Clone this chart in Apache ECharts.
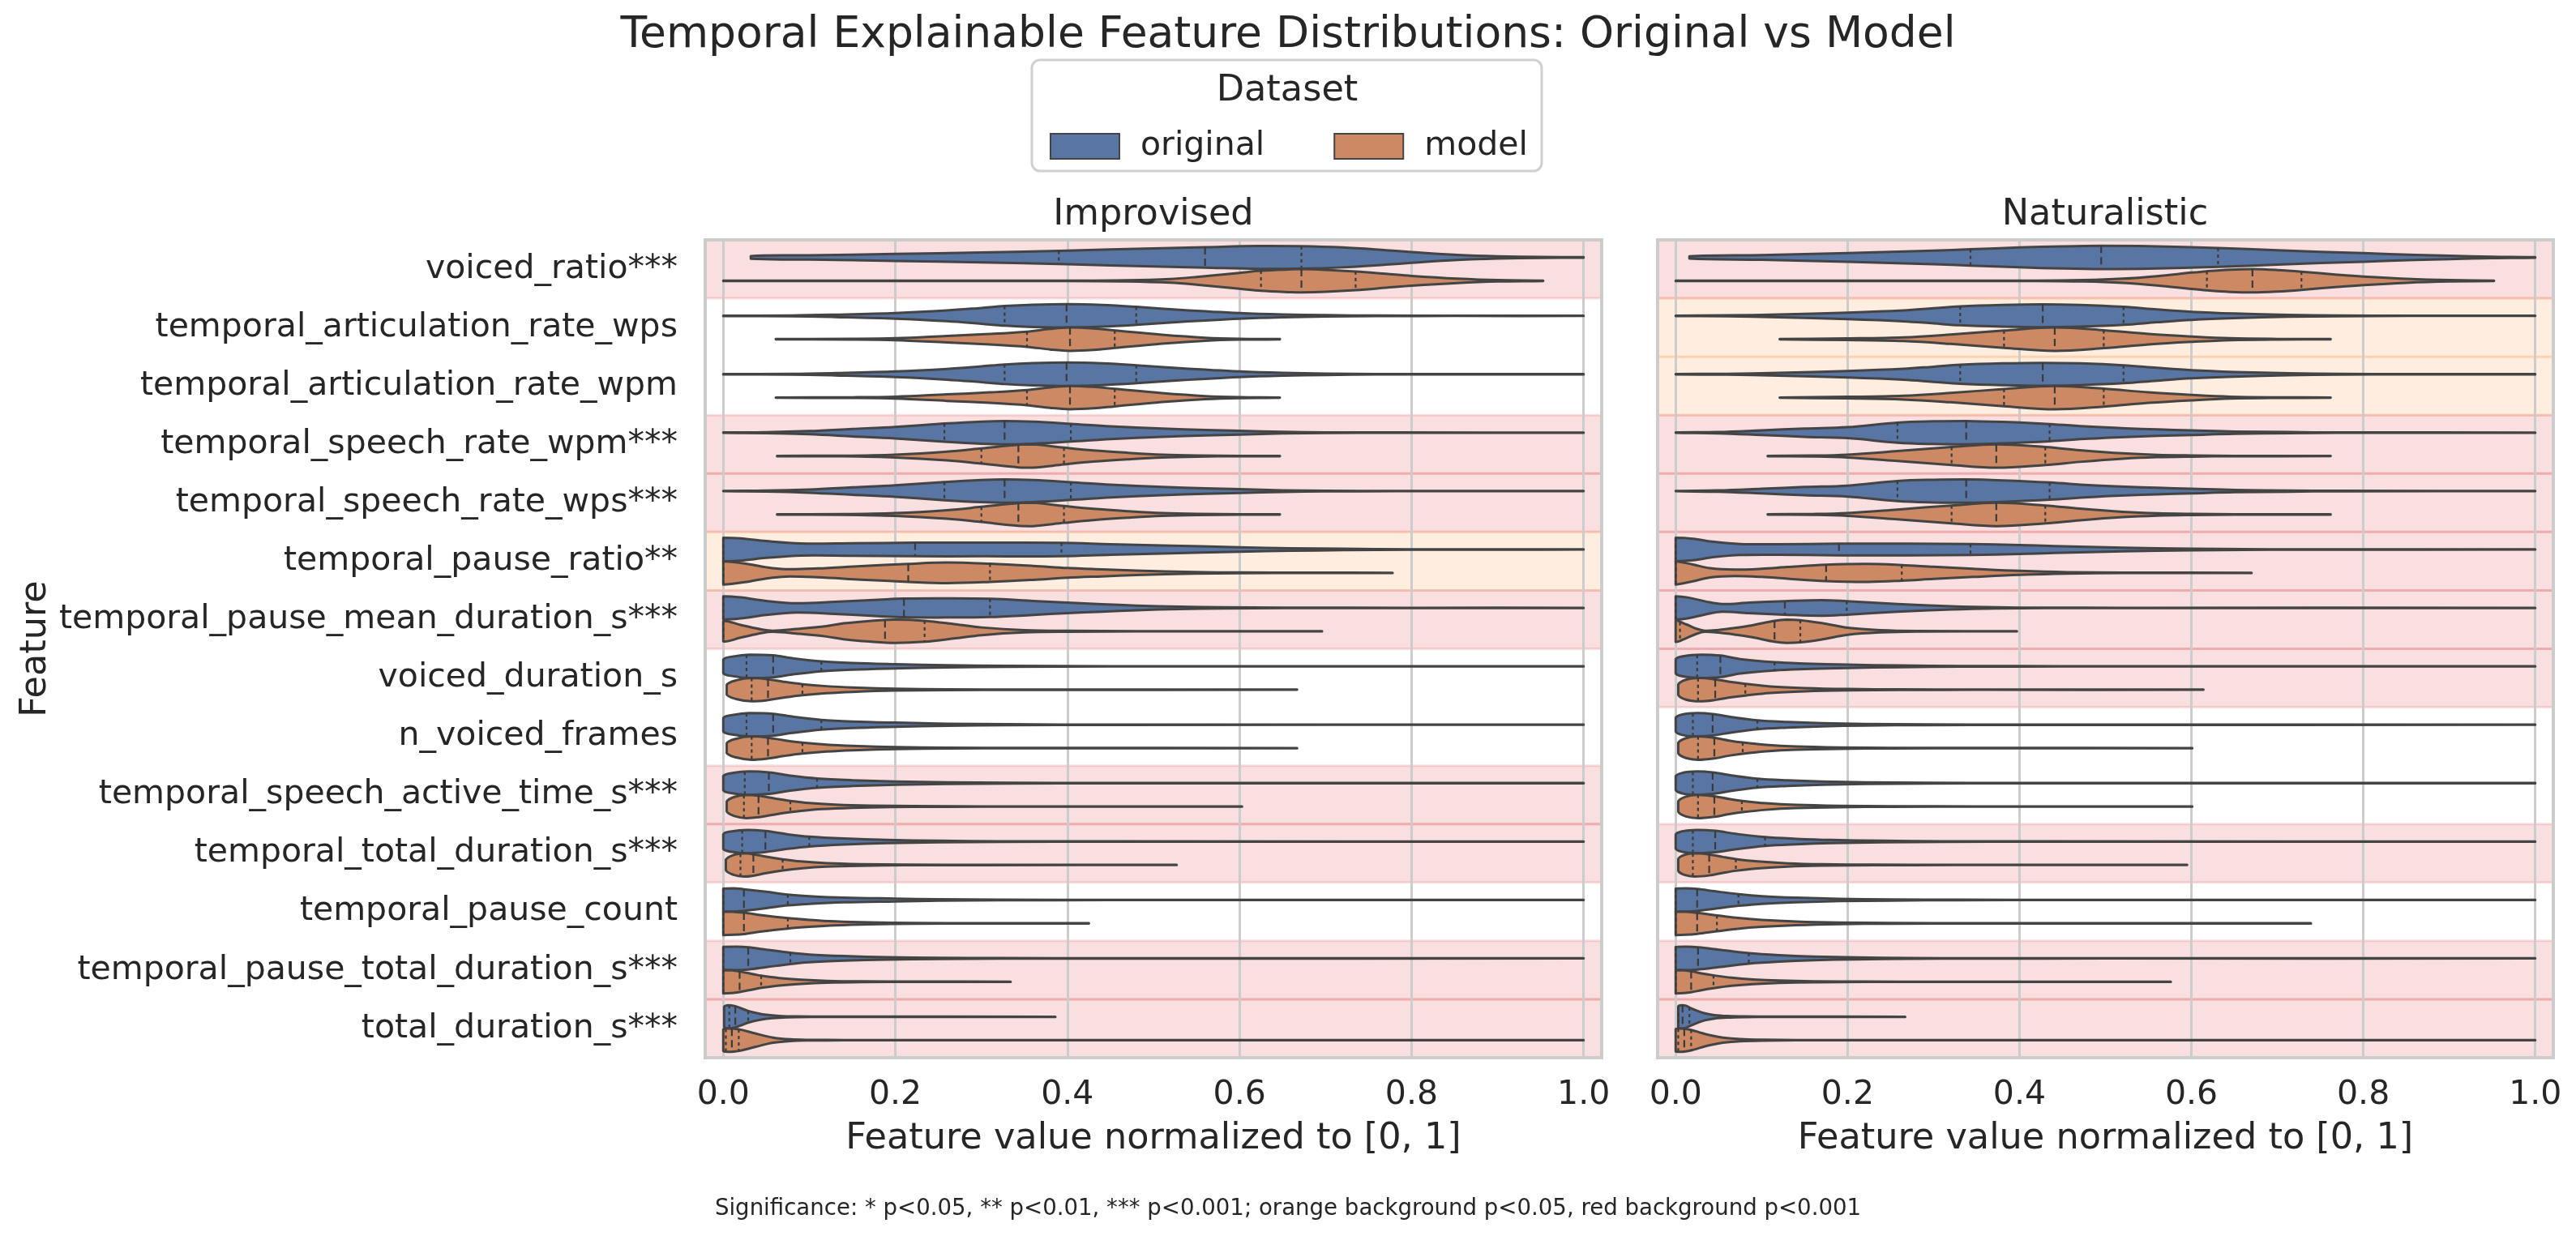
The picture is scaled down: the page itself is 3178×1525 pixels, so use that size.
<!DOCTYPE html>
<html>
<head>
<meta charset="utf-8">
<title>Temporal Explainable Feature Distributions</title>
<script src="https://cdn.jsdelivr.net/npm/echarts@6/dist/echarts.min.js"></script>
<style>
  html, body { margin: 0; padding: 0; background: #ffffff; }
  #main { width: 3178px; height: 1525px; }
</style>
</head>
<body>
<div id="main"></div>
<script>
// feature rows, top to bottom
const features = [
  'voiced_ratio***', 'temporal_articulation_rate_wps', 'temporal_articulation_rate_wpm',
  'temporal_speech_rate_wpm***', 'temporal_speech_rate_wps***', 'temporal_pause_ratio**',
  'temporal_pause_mean_duration_s***', 'voiced_duration_s', 'n_voiced_frames',
  'temporal_speech_active_time_s***', 'temporal_total_duration_s***', 'temporal_pause_count',
  'temporal_pause_total_duration_s***', 'total_duration_s***'
];
const xTicks = [0, 0.2, 0.4, 0.6, 0.8, 1.0];

// background per row: red p<0.001, orange p<0.05
const sigImprovised = ['red', 'none', 'none', 'red', 'red', 'orange', 'red', 'none', 'none', 'red', 'red', 'none', 'red', 'red'];
const sigNaturalistic = ['red', 'orange', 'orange', 'red', 'red', 'red', 'red', 'red', 'none', 'none', 'red', 'none', 'red', 'red'];

// violin outlines as [value, relative width]
const impOriginalShapes = [
  [[0.032,0.12],[0.1,0.18],[0.2,0.3],[0.3,0.43],[0.4,0.58],[0.5,0.78],[0.56,0.88],[0.62,0.98],[0.67,0.96],[0.72,0.85],[0.77,0.62],[0.8,0.46],[0.853,0.22],[0.9,0.1],[0.95,0.04],[1.0,0.02]],
  [[0,0.015],[0.08,0.03],[0.13,0.1],[0.2,0.24],[0.26,0.46],[0.3,0.68],[0.327,0.84],[0.36,0.95],[0.4,1.0],[0.44,0.93],[0.48,0.77],[0.53,0.52],[0.6,0.24],[0.65,0.12],[0.7,0.06],[0.76,0.025],[0.85,0.012],[1.0,0.01]],
  [[0,0.015],[0.08,0.03],[0.13,0.1],[0.2,0.24],[0.26,0.46],[0.3,0.68],[0.327,0.84],[0.36,0.95],[0.4,1.0],[0.44,0.93],[0.48,0.77],[0.53,0.52],[0.6,0.24],[0.65,0.12],[0.7,0.06],[0.76,0.025],[0.85,0.012],[1.0,0.01]],
  [[0,0.015],[0.05,0.04],[0.1,0.14],[0.15,0.32],[0.2,0.5],[0.257,0.78],[0.3,0.95],[0.327,1.0],[0.36,0.94],[0.404,0.76],[0.45,0.55],[0.51,0.35],[0.56,0.24],[0.6,0.16],[0.65,0.07],[0.7,0.03],[0.78,0.015],[1.0,0.01]],
  [[0,0.015],[0.05,0.04],[0.1,0.14],[0.15,0.32],[0.2,0.5],[0.257,0.78],[0.3,0.95],[0.327,1.0],[0.36,0.94],[0.404,0.76],[0.45,0.55],[0.51,0.35],[0.56,0.24],[0.6,0.16],[0.65,0.07],[0.7,0.03],[0.78,0.015],[1.0,0.01]],
  [[0,1.0],[0.02,0.95],[0.05,0.72],[0.09,0.52],[0.15,0.54],[0.223,0.58],[0.3,0.58],[0.393,0.57],[0.45,0.45],[0.51,0.35],[0.6,0.19],[0.66,0.11],[0.72,0.06],[0.8,0.02],[0.9,0.012],[1.0,0.01]],
  [[0,1.0],[0.02,0.9],[0.05,0.6],[0.085,0.4],[0.13,0.52],[0.18,0.7],[0.21,0.8],[0.26,0.82],[0.31,0.78],[0.36,0.6],[0.4,0.45],[0.44,0.32],[0.48,0.2],[0.53,0.1],[0.58,0.05],[0.65,0.02],[0.8,0.012],[1.0,0.01]],
  [[0,0.58],[0.012,0.85],[0.03,1.0],[0.058,0.94],[0.08,0.7],[0.114,0.42],[0.15,0.28],[0.2,0.18],[0.26,0.09],[0.33,0.04],[0.45,0.015],[1.0,0.01]],
  [[0,0.58],[0.012,0.85],[0.03,1.0],[0.058,0.94],[0.08,0.7],[0.114,0.42],[0.15,0.28],[0.2,0.18],[0.26,0.09],[0.33,0.04],[0.45,0.015],[1.0,0.01]],
  [[0,0.6],[0.012,0.88],[0.03,1.0],[0.053,0.92],[0.08,0.62],[0.109,0.4],[0.15,0.25],[0.2,0.14],[0.26,0.07],[0.33,0.03],[0.45,0.015],[1.0,0.01]],
  [[0,0.62],[0.01,0.88],[0.028,1.0],[0.049,0.9],[0.075,0.62],[0.1,0.42],[0.14,0.26],[0.19,0.14],[0.25,0.07],[0.32,0.03],[0.45,0.015],[1.0,0.01]],
  [[0,0.97],[0.012,1.0],[0.024,0.92],[0.05,0.7],[0.075,0.46],[0.1,0.33],[0.14,0.2],[0.2,0.12],[0.25,0.06],[0.32,0.03],[0.45,0.015],[1.0,0.01]],
  [[0,0.98],[0.015,1.0],[0.029,0.95],[0.05,0.75],[0.078,0.48],[0.1,0.33],[0.14,0.2],[0.19,0.1],[0.25,0.05],[0.32,0.025],[0.45,0.012],[1.0,0.01]],
  [[0.001,0.85],[0.006,1.0],[0.012,0.95],[0.02,0.75],[0.029,0.5],[0.04,0.3],[0.05,0.17],[0.065,0.08],[0.085,0.035],[0.12,0.015],[0.386,0.01]]
];
const impOriginalQuarts = [[0.39,0.56,0.672],[0.327,0.399,0.48],[0.327,0.399,0.48],[0.257,0.327,0.404],[0.257,0.327,0.404],[0,0.223,0.393],[0,0.21,0.31],[0.027,0.058,0.114],[0.027,0.058,0.114],[0.025,0.053,0.109],[0.022,0.049,0.1],[0,0.024,0.075],[0,0.029,0.078],[0.007,0.014,0.029]];

const impModelShapes = [
  [[0,0.015],[0.4,0.015],[0.47,0.05],[0.52,0.16],[0.55,0.33],[0.6,0.68],[0.625,0.86],[0.66,0.98],[0.672,1.0],[0.7,0.94],[0.735,0.8],[0.77,0.6],[0.8,0.42],[0.853,0.19],[0.9,0.06],[0.953,0.015]],
  [[0.061,0.015],[0.15,0.03],[0.2,0.08],[0.26,0.28],[0.31,0.45],[0.353,0.65],[0.38,0.88],[0.403,1.0],[0.43,0.92],[0.455,0.75],[0.51,0.38],[0.56,0.13],[0.6,0.04],[0.647,0.015]],
  [[0.061,0.015],[0.15,0.03],[0.2,0.08],[0.26,0.28],[0.31,0.45],[0.353,0.65],[0.38,0.88],[0.403,1.0],[0.43,0.92],[0.455,0.75],[0.51,0.38],[0.56,0.13],[0.6,0.04],[0.647,0.015]],
  [[0.0625,0.015],[0.14,0.03],[0.2,0.12],[0.26,0.37],[0.3,0.65],[0.343,0.97],[0.36,1.0],[0.396,0.72],[0.43,0.48],[0.47,0.28],[0.51,0.12],[0.55,0.05],[0.6,0.02],[0.647,0.015]],
  [[0.0625,0.015],[0.14,0.03],[0.2,0.12],[0.26,0.37],[0.3,0.65],[0.343,0.97],[0.36,1.0],[0.396,0.72],[0.43,0.48],[0.47,0.28],[0.51,0.12],[0.55,0.05],[0.6,0.02],[0.647,0.015]],
  [[0,1.0],[0.025,0.8],[0.05,0.48],[0.072,0.32],[0.11,0.38],[0.16,0.58],[0.215,0.77],[0.26,0.88],[0.31,0.78],[0.36,0.6],[0.4,0.42],[0.44,0.3],[0.48,0.19],[0.547,0.07],[0.6,0.03],[0.68,0.015],[0.778,0.01]],
  [[0,0.85],[0.02,0.55],[0.045,0.15],[0.058,0.05],[0.085,0.2],[0.12,0.45],[0.14,0.68],[0.17,0.88],[0.2,1.0],[0.234,0.9],[0.27,0.6],[0.3,0.33],[0.35,0.1],[0.4,0.04],[0.48,0.015],[0.696,0.01]],
  [[0.004,0.42],[0.015,0.8],[0.033,1.0],[0.052,0.89],[0.07,0.68],[0.092,0.47],[0.12,0.3],[0.15,0.19],[0.2,0.08],[0.26,0.03],[0.35,0.015],[0.667,0.01]],
  [[0.004,0.42],[0.015,0.8],[0.033,1.0],[0.052,0.89],[0.07,0.68],[0.092,0.47],[0.12,0.3],[0.15,0.19],[0.2,0.08],[0.26,0.03],[0.35,0.015],[0.667,0.01]],
  [[0.004,0.42],[0.013,0.82],[0.027,1.0],[0.041,0.92],[0.06,0.68],[0.078,0.48],[0.1,0.3],[0.13,0.17],[0.17,0.08],[0.22,0.035],[0.3,0.015],[0.603,0.01]],
  [[0.003,0.45],[0.012,0.85],[0.024,1.0],[0.035,0.92],[0.05,0.7],[0.069,0.48],[0.09,0.3],[0.12,0.15],[0.16,0.07],[0.21,0.03],[0.3,0.015],[0.527,0.01]],
  [[0,1.0],[0.012,0.98],[0.024,0.92],[0.045,0.7],[0.075,0.45],[0.1,0.3],[0.13,0.17],[0.17,0.08],[0.22,0.03],[0.3,0.015],[0.425,0.01]],
  [[0,1.0],[0.01,0.97],[0.019,0.88],[0.035,0.65],[0.044,0.52],[0.065,0.32],[0.09,0.18],[0.12,0.08],[0.16,0.03],[0.22,0.015],[0.334,0.01]],
  [[0,0.92],[0.006,1.0],[0.012,0.98],[0.02,0.9],[0.037,0.58],[0.058,0.22],[0.078,0.07],[0.1,0.03],[0.14,0.015],[0.3,0.01],[1.0,0.01]]
];
const impModelQuarts = [[0.625,0.672,0.735],[0.353,0.403,0.455],[0.353,0.403,0.455],[0.3,0.343,0.396],[0.3,0.343,0.396],[0,0.215,0.31],[0,0.188,0.234],[0.033,0.052,0.092],[0.033,0.052,0.092],[0.024,0.041,0.078],[0.02,0.035,0.069],[0,0.024,0.075],[0,0.019,0.044],[0.003,0.01,0.018]];

const natOriginalShapes = [
  [[0.016,0.1],[0.1,0.2],[0.2,0.37],[0.3,0.58],[0.343,0.7],[0.4,0.85],[0.45,0.95],[0.495,1.0],[0.55,0.97],[0.631,0.81],[0.7,0.62],[0.75,0.48],[0.8,0.37],[0.86,0.22],[0.9,0.14],[0.95,0.06],[1.0,0.02]],
  [[0,0.015],[0.06,0.04],[0.12,0.12],[0.2,0.28],[0.265,0.47],[0.3,0.65],[0.331,0.81],[0.38,0.93],[0.427,0.98],[0.47,0.93],[0.521,0.77],[0.56,0.55],[0.6,0.35],[0.65,0.2],[0.713,0.08],[0.77,0.03],[0.85,0.012],[1.0,0.01]],
  [[0,0.015],[0.06,0.04],[0.12,0.12],[0.2,0.28],[0.265,0.47],[0.3,0.65],[0.331,0.81],[0.38,0.93],[0.427,0.98],[0.47,0.93],[0.521,0.77],[0.56,0.55],[0.6,0.35],[0.65,0.2],[0.713,0.08],[0.77,0.03],[0.85,0.012],[1.0,0.01]],
  [[0,0.015],[0.05,0.06],[0.1,0.2],[0.15,0.35],[0.2,0.47],[0.258,0.86],[0.3,0.97],[0.338,1.0],[0.38,0.92],[0.435,0.74],[0.48,0.52],[0.523,0.37],[0.56,0.28],[0.6,0.2],[0.65,0.1],[0.713,0.05],[0.77,0.02],[1.0,0.01]],
  [[0,0.015],[0.05,0.06],[0.1,0.2],[0.15,0.35],[0.2,0.47],[0.258,0.86],[0.3,0.97],[0.338,1.0],[0.38,0.92],[0.435,0.74],[0.48,0.52],[0.523,0.37],[0.56,0.28],[0.6,0.2],[0.65,0.1],[0.713,0.05],[0.77,0.02],[1.0,0.01]],
  [[0,1.0],[0.02,0.92],[0.045,0.65],[0.075,0.47],[0.12,0.45],[0.19,0.5],[0.27,0.5],[0.343,0.47],[0.4,0.38],[0.44,0.3],[0.52,0.16],[0.6,0.07],[0.66,0.035],[0.72,0.015],[1.0,0.01]],
  [[0,1.0],[0.015,0.88],[0.035,0.55],[0.054,0.33],[0.085,0.45],[0.127,0.58],[0.17,0.67],[0.199,0.58],[0.258,0.33],[0.32,0.14],[0.373,0.05],[0.43,0.02],[0.52,0.012],[1.0,0.01]],
  [[0,0.6],[0.01,0.88],[0.03,1.0],[0.052,0.92],[0.075,0.62],[0.115,0.35],[0.15,0.24],[0.2,0.14],[0.26,0.07],[0.33,0.03],[0.45,0.015],[1.0,0.01]],
  [[0,0.58],[0.008,0.88],[0.025,1.0],[0.043,0.92],[0.065,0.66],[0.095,0.38],[0.13,0.24],[0.17,0.14],[0.22,0.07],[0.29,0.03],[0.4,0.015],[1.0,0.01]],
  [[0,0.58],[0.008,0.88],[0.025,1.0],[0.043,0.92],[0.065,0.66],[0.095,0.38],[0.13,0.24],[0.17,0.14],[0.22,0.07],[0.29,0.03],[0.4,0.015],[1.0,0.01]],
  [[0,0.6],[0.008,0.88],[0.025,1.0],[0.046,0.92],[0.07,0.66],[0.104,0.38],[0.14,0.24],[0.18,0.14],[0.24,0.07],[0.31,0.03],[0.42,0.015],[1.0,0.01]],
  [[0,0.97],[0.012,1.0],[0.025,0.94],[0.045,0.75],[0.073,0.5],[0.1,0.33],[0.14,0.2],[0.19,0.1],[0.25,0.05],[0.33,0.02],[0.45,0.012],[1.0,0.01]],
  [[0,0.97],[0.012,1.0],[0.026,0.95],[0.05,0.75],[0.085,0.45],[0.12,0.28],[0.16,0.16],[0.21,0.08],[0.27,0.035],[0.35,0.015],[0.5,0.01],[1.0,0.01]],
  [[0.003,0.88],[0.008,1.0],[0.012,0.95],[0.016,0.8],[0.025,0.52],[0.034,0.3],[0.045,0.15],[0.06,0.07],[0.08,0.03],[0.11,0.015],[0.267,0.01]]
];
const natOriginalQuarts = [[0.343,0.495,0.631],[0.331,0.427,0.521],[0.331,0.427,0.521],[0.258,0.338,0.435],[0.258,0.338,0.435],[0,0.19,0.343],[0,0.127,0.199],[0.025,0.052,0.115],[0.02,0.043,0.095],[0.02,0.043,0.095],[0.02,0.046,0.104],[0,0.025,0.073],[0,0.026,0.085],[0.003,0.008,0.016]];

const natModelShapes = [
  [[0,0.015],[0.42,0.015],[0.475,0.06],[0.52,0.18],[0.56,0.4],[0.6,0.7],[0.618,0.82],[0.645,0.95],[0.671,1.0],[0.7,0.92],[0.728,0.78],[0.77,0.52],[0.8,0.36],[0.85,0.17],[0.9,0.06],[0.952,0.015]],
  [[0.121,0.015],[0.2,0.07],[0.265,0.16],[0.32,0.4],[0.382,0.74],[0.441,1.0],[0.498,0.77],[0.55,0.45],[0.6,0.23],[0.645,0.08],[0.7,0.025],[0.762,0.015]],
  [[0.121,0.015],[0.2,0.07],[0.265,0.16],[0.32,0.4],[0.382,0.74],[0.441,1.0],[0.498,0.77],[0.55,0.45],[0.6,0.23],[0.645,0.08],[0.7,0.025],[0.762,0.015]],
  [[0.107,0.015],[0.16,0.04],[0.2,0.12],[0.258,0.42],[0.321,0.77],[0.373,1.0],[0.43,0.77],[0.47,0.5],[0.52,0.23],[0.56,0.1],[0.6,0.05],[0.65,0.02],[0.762,0.012]],
  [[0.107,0.015],[0.16,0.04],[0.2,0.12],[0.258,0.42],[0.321,0.77],[0.373,1.0],[0.43,0.77],[0.47,0.5],[0.52,0.23],[0.56,0.1],[0.6,0.05],[0.65,0.02],[0.762,0.012]],
  [[0,1.0],[0.02,0.72],[0.04,0.4],[0.068,0.28],[0.1,0.35],[0.13,0.5],[0.175,0.7],[0.224,0.77],[0.263,0.67],[0.3,0.52],[0.346,0.35],[0.4,0.17],[0.455,0.06],[0.52,0.02],[0.67,0.01]],
  [[0,0.9],[0.012,0.6],[0.025,0.2],[0.034,0.05],[0.05,0.12],[0.07,0.3],[0.088,0.5],[0.115,0.9],[0.129,1.0],[0.145,0.95],[0.17,0.7],[0.2,0.3],[0.238,0.1],[0.28,0.03],[0.397,0.01]],
  [[0.003,0.45],[0.012,0.85],[0.028,1.0],[0.046,0.88],[0.065,0.65],[0.081,0.5],[0.11,0.28],[0.15,0.14],[0.2,0.06],[0.26,0.025],[0.35,0.012],[0.614,0.01]],
  [[0.003,0.45],[0.012,0.85],[0.026,1.0],[0.045,0.88],[0.062,0.65],[0.078,0.48],[0.105,0.28],[0.14,0.14],[0.19,0.06],[0.25,0.025],[0.35,0.012],[0.601,0.01]],
  [[0.003,0.45],[0.012,0.85],[0.026,1.0],[0.045,0.88],[0.062,0.65],[0.078,0.48],[0.105,0.28],[0.14,0.14],[0.19,0.06],[0.25,0.025],[0.35,0.012],[0.601,0.01]],
  [[0.003,0.5],[0.01,0.85],[0.022,1.0],[0.039,0.9],[0.055,0.68],[0.07,0.5],[0.095,0.3],[0.13,0.14],[0.17,0.06],[0.23,0.025],[0.32,0.012],[0.595,0.01]],
  [[0,1.0],[0.012,0.98],[0.025,0.9],[0.048,0.68],[0.07,0.48],[0.1,0.3],[0.14,0.16],[0.19,0.07],[0.25,0.03],[0.35,0.015],[0.5,0.01],[0.739,0.01]],
  [[0,1.0],[0.01,0.97],[0.018,0.9],[0.03,0.72],[0.044,0.55],[0.065,0.35],[0.09,0.2],[0.12,0.1],[0.16,0.04],[0.22,0.018],[0.3,0.01],[0.576,0.01]],
  [[0,0.95],[0.005,1.0],[0.01,0.98],[0.018,0.88],[0.03,0.62],[0.04,0.42],[0.055,0.22],[0.075,0.09],[0.1,0.035],[0.14,0.015],[0.3,0.01],[1.0,0.01]]
];
const natModelQuarts = [[0.618,0.671,0.728],[0.382,0.441,0.498],[0.382,0.441,0.498],[0.321,0.373,0.43],[0.321,0.373,0.43],[0,0.175,0.263],[0.005,0.115,0.145],[0.026,0.046,0.081],[0.026,0.045,0.078],[0.026,0.045,0.077],[0.02,0.039,0.07],[0,0.025,0.048],[0,0.018,0.044],[0.003,0.01,0.018]];

const FONT = 'DejaVu Sans';
const TEXT = '#262626';
const BLUE = '#5975a4';
const ORANGE = '#cc8963';
const EDGE = '#444444';
const BAND = { red: 'rgba(214,39,40,0.15)', orange: 'rgba(255,127,14,0.13)' };

// width of the outline at a value, for the quartile ticks
function widthAt(prof, x) {
  if (x <= prof[0][0]) return prof[0][1];
  for (let i = 1; i < prof.length; i++) {
    if (x <= prof[i][0]) {
      const a = prof[i - 1], b = prof[i];
      return a[1] + (b[1] - a[1]) * (x - a[0]) / (b[0] - a[0]);
    }
  }
  return prof[prof.length - 1][1];
}

function violinRenderer(shapes, quarts, side, fill) {
  return function (params, api) {
    const idx = api.value(1);
    const prof = shapes[idx];
    const band = api.size([0, 1])[1];
    const half = 0.2 * band;
    const cy = api.coord([0, idx])[1] + side * half;
    const top = [], bottom = [];
    for (const p of prof) {
      const x = api.coord([p[0], idx])[0];
      top.push([x, cy - p[1] * half]);
      bottom.unshift([x, cy + p[1] * half]);
    }
    const x0 = top[0][0], x1 = top[top.length - 1][0];
    const children = [{
      type: 'polygon',
      shape: {
        points: top.concat(bottom),
        smooth: 0.35,
        smoothConstraint: [[x0, cy - half], [x1, cy + half]]
      },
      style: { fill: fill, stroke: EDGE, lineWidth: 3, lineJoin: 'round' }
    }];
    quarts[idx].forEach(function (q, k) {
      const w = widthAt(prof, q) * half;
      const x = api.coord([q, idx])[0];
      children.push({
        type: 'line',
        shape: { x1: x, y1: cy - w, x2: x, y2: cy + w },
        style: { stroke: '#3a3a3a', lineWidth: 2.2, lineDash: k === 1 ? [9, 5] : [4, 4] }
      });
    });
    return { type: 'group', children: children };
  };
}

function bandRenderer(sig) {
  return function (params, api) {
    const idx = api.value(1);
    const kind = sig[idx];
    if (kind === 'none') return { type: 'group', children: [] };
    const band = api.size([0, 1])[1];
    const cy = api.coord([0, idx])[1];
    const cs = params.coordSys;
    return {
      type: 'rect',
      shape: { x: cs.x, y: cy - band / 2, width: cs.width, height: band },
      style: { fill: BAND[kind], stroke: BAND[kind], lineWidth: 3 }
    };
  };
}

function rowData(shapes) {
  return shapes.map(function (s, i) { return [s[s.length - 1][0], i]; });
}

const grids = [
  { left: 870, top: 296, width: 1106, height: 1009 },
  { left: 2045, top: 296, width: 1105, height: 1009 }
];

function xAxisFor(i) {
  return {
    type: 'value', gridIndex: i, min: -0.021, max: 1.021, splitNumber: 5,
    name: 'Feature value normalized to [0, 1]', nameLocation: 'middle', nameGap: 78,
    nameTextStyle: { fontSize: 44.6, color: TEXT, fontFamily: FONT },
    axisLine: { show: false }, axisTick: { show: false },
    axisLabel: {
      fontSize: 41, color: TEXT, fontFamily: FONT, margin: 26,
      showMinLabel: false, showMaxLabel: false,
      formatter: function (v) {
        const t = xTicks.find(function (k) { return Math.abs(k - v) < 1e-6; });
        return t === undefined ? '' : t.toFixed(1);
      }
    },
    splitLine: { show: true, lineStyle: { color: '#cccccc', width: 3 } }
  };
}

function yAxisFor(i) {
  return {
    type: 'category', gridIndex: i, data: features, inverse: true,
    name: i === 0 ? 'Feature' : '', nameLocation: 'middle', nameGap: 803, nameRotate: 90,
    nameTextStyle: { fontSize: 44.6, color: TEXT, fontFamily: FONT },
    axisLine: { show: false }, axisTick: { show: false },
    axisLabel: { show: i === 0, fontSize: 41, color: TEXT, fontFamily: FONT, margin: 34 },
    splitLine: { show: false }
  };
}

const chart = echarts.init(document.getElementById('main'), null, { renderer: 'canvas' });

chart.setOption({
  animation: false,
  backgroundColor: '#ffffff',
  grid: grids.map(function (g) {
    return Object.assign({ show: true, borderColor: '#cccccc', borderWidth: 4, backgroundColor: 'transparent' }, g);
  }),
  xAxis: [xAxisFor(0), xAxisFor(1)],
  yAxis: [yAxisFor(0), yAxisFor(1)],
  legend: {
    data: ['original', 'model'],
    left: 1290, top: 155,
    itemWidth: 85, itemHeight: 31, itemGap: 85,
    icon: 'rect',
    selectedMode: false,
    itemStyle: { borderColor: EDGE, borderWidth: 2 },
    textStyle: { fontSize: 41, color: TEXT, fontFamily: FONT, padding: [0, 0, 0, 21] }
  },
  graphic: [
    { type: 'rect', z: 0, shape: { x: 1273, y: 74, width: 629, height: 137, r: 10 },
      style: { fill: '#ffffff', stroke: '#d0d0d0', lineWidth: 3 } },
    { type: 'text', x: 1589, y: 44,
      style: { text: 'Temporal Explainable Feature Distributions: Original vs Model', fontSize: 53.5, fontFamily: FONT, fill: TEXT, align: 'center', verticalAlign: 'middle' } },
    { type: 'text', x: 1588, y: 112,
      style: { text: 'Dataset', fontSize: 44.6, fontFamily: FONT, fill: TEXT, align: 'center', verticalAlign: 'middle' } },
    { type: 'text', x: 1423, y: 265,
      style: { text: 'Improvised', fontSize: 44.6, fontFamily: FONT, fill: TEXT, align: 'center', verticalAlign: 'middle' } },
    { type: 'text', x: 2597, y: 265,
      style: { text: 'Naturalistic', fontSize: 44.6, fontFamily: FONT, fill: TEXT, align: 'center', verticalAlign: 'middle' } },
    { type: 'text', x: 1589, y: 1492,
      style: { text: 'Significance: * p<0.05, ** p<0.01, *** p<0.001; orange background p<0.05, red background p<0.001', fontSize: 27.6, fontFamily: FONT, fill: TEXT, align: 'center', verticalAlign: 'middle' } }
  ],
  series: [
    // backgrounds sit under the grid lines and the frame
    { type: 'custom', name: 'bands-improvised', xAxisIndex: 0, yAxisIndex: 0, z: -1, silent: true,
      renderItem: bandRenderer(sigImprovised), data: rowData(impOriginalShapes) },
    { type: 'custom', name: 'bands-naturalistic', xAxisIndex: 1, yAxisIndex: 1, z: -1, silent: true,
      renderItem: bandRenderer(sigNaturalistic), data: rowData(natOriginalShapes) },
    { type: 'custom', name: 'original', xAxisIndex: 0, yAxisIndex: 0, z: 3,
      itemStyle: { color: BLUE }, renderItem: violinRenderer(impOriginalShapes, impOriginalQuarts, -1, BLUE), data: rowData(impOriginalShapes) },
    { type: 'custom', name: 'model', xAxisIndex: 0, yAxisIndex: 0, z: 3,
      itemStyle: { color: ORANGE }, renderItem: violinRenderer(impModelShapes, impModelQuarts, 1, ORANGE), data: rowData(impModelShapes) },
    { type: 'custom', name: 'original', xAxisIndex: 1, yAxisIndex: 1, z: 3,
      itemStyle: { color: BLUE }, renderItem: violinRenderer(natOriginalShapes, natOriginalQuarts, -1, BLUE), data: rowData(natOriginalShapes) },
    { type: 'custom', name: 'model', xAxisIndex: 1, yAxisIndex: 1, z: 3,
      itemStyle: { color: ORANGE }, renderItem: violinRenderer(natModelShapes, natModelQuarts, 1, ORANGE), data: rowData(natModelShapes) }
  ]
});
</script>
</body>
</html>
